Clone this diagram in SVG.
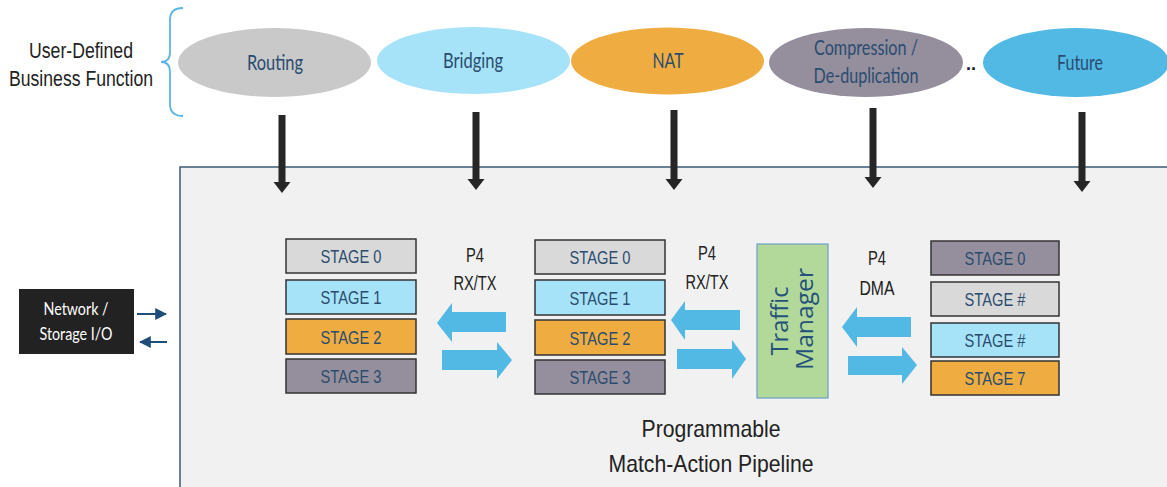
<svg xmlns="http://www.w3.org/2000/svg" width="1167" height="487" viewBox="0 0 1167 487">
<style>
.lbl{font-family:"Liberation Sans",Arial,sans-serif;fill:#222;}
.eltxt{font-family:Lato,"Noto Sans",sans-serif;font-size:21px;fill:#2a4c70;text-anchor:middle;}
.stg{stroke:#333;stroke-width:1.5;}
.stgtxt{font-family:"Liberation Sans",Arial,sans-serif;font-size:19px;fill:#2b4c6e;text-anchor:middle;}
.p4{font-family:"Liberation Sans",Arial,sans-serif;font-size:20px;fill:#222;text-anchor:middle;}
.blue{fill:#52b8e4;}
.dark{fill:#262626;}
.gray{fill:#d9d9d9;}
.lblue{fill:#a6e3f8;}
.orange{fill:#efac41;}
.purple{fill:#958f9d;}
.iotxt{font-family:Lato,"Noto Sans",sans-serif;font-size:18px;fill:#ffffff;text-anchor:middle;}
</style>
<defs>
<marker id="io" viewBox="0 0 10 10" refX="9" refY="5" markerWidth="6" markerHeight="6" orient="auto" markerUnits="strokeWidth">
<path d="M0,0 L10,5 L0,10 z" fill="#1f4e79"/>
</marker>
</defs>
<rect x="0" y="0" width="1167" height="487" fill="#ffffff"/>

<g id="panel">
<rect x="180" y="167" width="1000" height="340" fill="#f1f1f1" stroke="#3d5a78" stroke-width="1.5"/>
</g>

<g id="business-label">
<text class="lbl" x="81" y="58" font-size="22" text-anchor="middle" textLength="104" lengthAdjust="spacingAndGlyphs">User-Defined</text>
<text class="lbl" x="81" y="86" font-size="22" text-anchor="middle" textLength="144" lengthAdjust="spacingAndGlyphs">Business Function</text>
<path d="M183,8 Q170,8 170,20 L170,52 Q170,62 161,62 Q170,62 170,72 L170,104 Q170,116 183,116" fill="none" stroke="#5bb5e5" stroke-width="1.8"/>
</g>

<g id="routing">
<ellipse cx="274.5" cy="62.5" rx="96.5" ry="34.5" fill="#c9c9c9"/>
<text class="eltxt" x="275" y="70" textLength="56" lengthAdjust="spacingAndGlyphs">Routing</text>
</g>
<g id="bridging">
<ellipse cx="473.5" cy="60.5" rx="96.5" ry="33.5" class="lblue"/>
<text class="eltxt" x="473" y="68" textLength="60" lengthAdjust="spacingAndGlyphs">Bridging</text>
</g>
<g id="nat">
<ellipse cx="667.5" cy="61" rx="96.5" ry="33.5" class="orange"/>
<text class="eltxt" x="668" y="68" textLength="31" lengthAdjust="spacingAndGlyphs">NAT</text>
</g>
<g id="compression">
<ellipse cx="866" cy="62.5" rx="97" ry="34.5" class="purple"/>
<text class="eltxt" x="866" y="55" textLength="104" lengthAdjust="spacingAndGlyphs">Compression /</text>
<text class="eltxt" x="866" y="83" textLength="105" lengthAdjust="spacingAndGlyphs">De-duplication</text>
</g>
<g id="dots">
<text x="971" y="70" font-family="Liberation Sans,Arial,sans-serif" font-size="18" font-weight="bold" fill="#222" text-anchor="middle">..</text>
</g>
<g id="future">
<ellipse cx="1076" cy="62.5" rx="93" ry="34.5" class="blue"/>
<text class="eltxt" x="1080" y="70" textLength="46" lengthAdjust="spacingAndGlyphs">Future</text>
</g>

<g id="io">
<rect x="19" y="289" width="115" height="65" fill="#222222"/>
<text class="iotxt" x="76" y="315" textLength="65" lengthAdjust="spacingAndGlyphs">Network /</text>
<text class="iotxt" x="76" y="340" textLength="73" lengthAdjust="spacingAndGlyphs">Storage I/O</text>
</g>

<g id="stages-1">
<rect x="286" y="239" width="130" height="34" class="stg gray"/>
<text class="stgtxt" x="351" y="263" textLength="61" lengthAdjust="spacingAndGlyphs">STAGE 0</text>
<rect x="286" y="280" width="130" height="34" class="stg lblue"/>
<text class="stgtxt" x="351" y="304" textLength="61" lengthAdjust="spacingAndGlyphs">STAGE 1</text>
<rect x="286" y="319" width="130" height="35" class="stg orange"/>
<text class="stgtxt" x="351" y="344" textLength="61" lengthAdjust="spacingAndGlyphs">STAGE 2</text>
<rect x="286" y="359" width="130" height="34" class="stg purple"/>
<text class="stgtxt" x="351" y="383" textLength="61" lengthAdjust="spacingAndGlyphs">STAGE 3</text>
</g>

<g id="stages-2">
<rect x="535" y="240" width="130" height="34" class="stg gray"/>
<text class="stgtxt" x="600" y="264" textLength="61" lengthAdjust="spacingAndGlyphs">STAGE 0</text>
<rect x="535" y="280" width="130" height="35" class="stg lblue"/>
<text class="stgtxt" x="600" y="305" textLength="61" lengthAdjust="spacingAndGlyphs">STAGE 1</text>
<rect x="535" y="320" width="130" height="35" class="stg orange"/>
<text class="stgtxt" x="600" y="345" textLength="61" lengthAdjust="spacingAndGlyphs">STAGE 2</text>
<rect x="535" y="360" width="130" height="34" class="stg purple"/>
<text class="stgtxt" x="600" y="384" textLength="61" lengthAdjust="spacingAndGlyphs">STAGE 3</text>
</g>

<g id="traffic-manager">
<rect x="757" y="244" width="71" height="154" fill="#b3d99a" stroke="#6a9fc8" stroke-width="1.2"/>
<text transform="translate(788,321) rotate(-90)" font-family="'Open Sans','Liberation Sans',sans-serif" font-size="23" fill="#25527a" text-anchor="middle" textLength="69" lengthAdjust="spacingAndGlyphs">Traffic</text>
<text transform="translate(813,319) rotate(-90)" font-family="'Open Sans','Liberation Sans',sans-serif" font-size="23" fill="#25527a" text-anchor="middle" textLength="102" lengthAdjust="spacingAndGlyphs">Manager</text>
</g>

<g id="stages-3">
<rect x="931" y="241" width="128" height="34" class="stg purple"/>
<text class="stgtxt" x="995" y="265" textLength="61" lengthAdjust="spacingAndGlyphs">STAGE 0</text>
<rect x="931" y="282" width="128" height="34" class="stg gray"/>
<text class="stgtxt" x="995" y="306" textLength="61" lengthAdjust="spacingAndGlyphs">STAGE #</text>
<rect x="931" y="323" width="128" height="34" class="stg lblue"/>
<text class="stgtxt" x="995" y="347" textLength="61" lengthAdjust="spacingAndGlyphs">STAGE #</text>
<rect x="931" y="361" width="128" height="34" class="stg orange"/>
<text class="stgtxt" x="995" y="385" textLength="61" lengthAdjust="spacingAndGlyphs">STAGE 7</text>
</g>

<g id="labels">
<text class="p4" x="475" y="262" textLength="18" lengthAdjust="spacingAndGlyphs">P4</text>
<text class="p4" x="475" y="290" textLength="43" lengthAdjust="spacingAndGlyphs">RX/TX</text>
<text class="p4" x="707" y="260" textLength="18" lengthAdjust="spacingAndGlyphs">P4</text>
<text class="p4" x="707" y="289" textLength="43" lengthAdjust="spacingAndGlyphs">RX/TX</text>
<text class="p4" x="877" y="265" textLength="18" lengthAdjust="spacingAndGlyphs">P4</text>
<text class="p4" x="877" y="295" textLength="35" lengthAdjust="spacingAndGlyphs">DMA</text>
<text class="lbl" x="711" y="437" font-size="24" text-anchor="middle" textLength="139" lengthAdjust="spacingAndGlyphs">Programmable</text>
<text class="lbl" x="711" y="472" font-size="24" text-anchor="middle" textLength="205" lengthAdjust="spacingAndGlyphs">Match-Action Pipeline</text>
</g>

<g id="connectors">
<path class="dark" d="M278.5,115 h7 v67 h5 l-8.5,11 l-8.5,-11 h5 z"/>
<path class="dark" d="M472.5,112 h7 v67 h5 l-8.5,11 l-8.5,-11 h5 z"/>
<path class="dark" d="M670.5,110 h7 v69 h5 l-8.5,11 l-8.5,-11 h5 z"/>
<path class="dark" d="M869.5,108 h7 v69 h5 l-8.5,11 l-8.5,-11 h5 z"/>
<path class="dark" d="M1078.5,112 h7 v69 h5 l-8.5,11 l-8.5,-11 h5 z"/>
<line x1="137" y1="314" x2="166" y2="314" stroke="#1f4e79" stroke-width="2" marker-end="url(#io)"/>
<line x1="167" y1="342" x2="140" y2="342" stroke="#1f4e79" stroke-width="2" marker-end="url(#io)"/>
<path class="blue" d="M506,312 V332 H452 V342 L437,323 L452,303 V312 Z"/>
<path class="blue" d="M442,350 H497 V342 L512,360 L497,379 V370 H442 Z"/>
<path class="blue" d="M740,310 V330 H685 V340 L671,320 L685,301 V310 Z"/>
<path class="blue" d="M677,349 H732 V340 L746,359 L732,379 V369 H677 Z"/>
<path class="blue" d="M911,317 V337 H857 V347 L842,327 L857,307 V317 Z"/>
<path class="blue" d="M848,356 H902 V347 L917,365 L902,384 V375 H848 Z"/>
</g>
</svg>
